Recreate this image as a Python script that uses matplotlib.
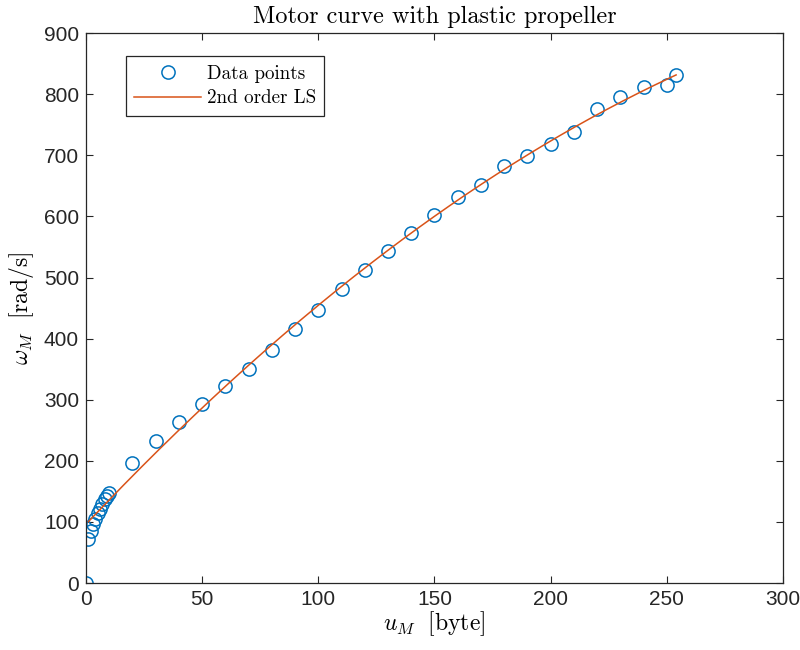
import numpy as np
import matplotlib
matplotlib.use("Agg")
import matplotlib.pyplot as plt

u_M = [0, 1, 2, 3, 4, 5, 6, 7, 8, 9, 10, 20, 30, 40, 50, 60, 70, 80, 90, 100,
       110, 120, 130, 140, 150, 160, 170, 180, 190, 200, 210, 220, 230, 240, 250, 254]
omega_M = [0, 72, 85, 97, 105, 115, 122, 130, 137, 143, 148, 196, 232, 263, 293, 322,
           350, 381, 416, 447, 481, 512, 543, 573, 602, 632, 651, 682, 699, 718, 738,
           776, 795, 812, 815, 831]

plt.rcParams['mathtext.fontset'] = 'cm'
plt.rcParams['font.family'] = ['Liberation Sans', 'DejaVu Sans']

x = np.array(u_M, dtype=float)
y = np.array(omega_M, dtype=float)
coef = np.polyfit(x[1:], y[1:], 2)
xf = np.linspace(1, 254, 300)
yf = np.polyval(coef, xf)

fig = plt.figure(figsize=(8, 6.5), dpi=100)
ax = fig.add_axes([0.1075, 0.103, 0.8712, 0.846])
ax.plot(x, y, 'o', mfc='none', mec='#0072BD', ms=9.5, mew=1.1, label='Data points')
ax.plot(xf, yf, '-', color='#D95319', lw=1.1, label='2nd order LS')
ax.set_xlim(0, 300)
ax.set_ylim(0, 900)
ax.set_xticks(np.arange(0, 301, 50))
ax.set_yticks(np.arange(0, 901, 100))
ax.tick_params(direction='in', top=True, right=True, labelsize=15, length=5, width=0.8,
               colors='#262626', pad=5)
for s in ax.spines.values():
    s.set_linewidth(0.9)
    s.set_color('#262626')
ax.set_title('Motor curve with plastic propeller', fontsize=17.5, family='cmr10', pad=7)
ax.set_xlabel(r'$u_M\ \ \mathrm{[byte]}$', fontsize=17, labelpad=0)
ax.set_ylabel(r'$\omega_M\ \ \mathrm{[rad/s]}$', fontsize=17, labelpad=6)
leg = ax.legend(loc='upper left', bbox_to_anchor=(0.057, 0.958), fancybox=False,
                edgecolor='#262626', framealpha=1, borderaxespad=0,
                prop={'family': 'cmr10', 'size': 13.7}, handlelength=3.5,
                handletextpad=0.3, borderpad=0.45, labelspacing=0.35)
leg.get_frame().set_linewidth(0.9)
fig.savefig('out.png', dpi=100)
